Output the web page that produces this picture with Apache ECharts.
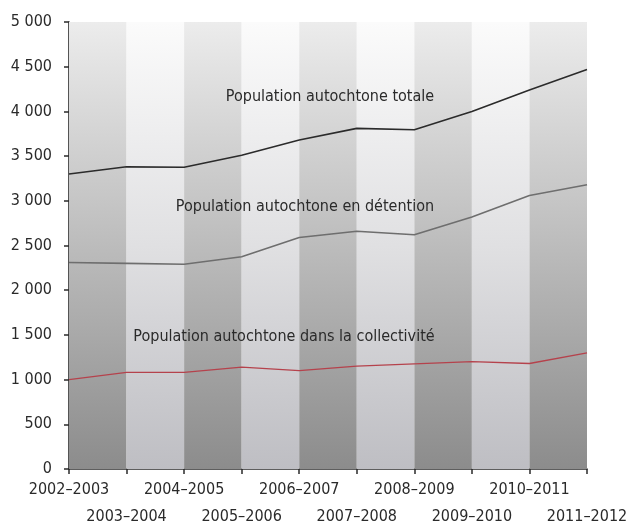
<!DOCTYPE html>
<html><head><meta charset="utf-8">
<script src="https://cdn.jsdelivr.net/npm/echarts@6/dist/echarts.min.js"></script>
<style>html,body{margin:0;padding:0;background:#fff}#c{width:634px;height:526px}</style>
</head><body><div id="c"></div>
<script>
const categories = ['2002–2003','2003–2004','2004–2005','2005–2006','2006–2007','2007–2008','2008–2009','2009–2010','2010–2011','2011–2012'];
const totale = [3300, 3380, 3375, 3510, 3680, 3810, 3795, 4000, 4240, 4470];
const detention = [2310, 2300, 2290, 2375, 2590, 2660, 2620, 2820, 3060, 3180];
const collectivite = [1000, 1080, 1080, 1140, 1100, 1150, 1175, 1200, 1180, 1300];
const seriesNames = ['Population autochtone totale','Population autochtone en détention','Population autochtone dans la collectivité'];

const FONT = '"DejaVu Sans Condensed","Liberation Sans Narrow",sans-serif';
const darkStripe = {type:'linear',x:0,y:0,x2:0,y2:1,colorStops:[
  {offset:0,color:'#ececec'},{offset:0.5,color:'#bcbcbc'},{offset:1,color:'#8c8c8c'}]};
const lightStripe = {type:'linear',x:0,y:0,x2:0,y2:1,colorStops:[
  {offset:0,color:'#fbfbfb'},{offset:0.5,color:'#e0e0e2'},{offset:1,color:'#bebec3'}]};
const stripes = [];
for (let i = 0; i < categories.length - 1; i++) {
  stripes.push([{xAxis: categories[i], itemStyle:{color: i % 2 === 0 ? darkStripe : lightStripe}}, {xAxis: categories[i+1]}]);
}

const chart = echarts.init(document.getElementById('c'));
chart.setOption({
  animation: false,
  grid: {left: 69, right: 47, top: 22, bottom: 57, containLabel: false, outerBoundsMode: 'none'},
  xAxis: {
    type: 'category', data: categories, boundaryGap: false,
    axisLine: {lineStyle: {color: '#2a2a2a', width: 1.6}},
    axisTick: {length: 5, lineStyle: {color: '#2a2a2a', width: 1.5}},
    axisLabel: {
      interval: 0, color: '#2a2a2a', fontFamily: FONT, fontSize: 16, margin: 7, lineHeight: 27,
      formatter: (v, i) => (i % 2 ? '\n' + v : v)
    },
    splitLine: {show: false}
  },
  yAxis: {
    type: 'value', min: 0, max: 5000, interval: 500,
    axisLine: {show: true, lineStyle: {color: '#2a2a2a', width: 1.6}},
    axisTick: {show: true, length: 5, lineStyle: {color: '#2a2a2a', width: 1.5}},
    axisLabel: {color: '#2a2a2a', fontFamily: FONT, fontSize: 16, margin: 17,
      formatter: v => String(v).replace(/\B(?=(\d{3})+(?!\d))/g, ' ')},
    splitLine: {show: false}
  },
  series: [
    {name: seriesNames[0], type: 'line', data: totale, symbol: 'none',
      lineStyle: {color: '#2b2b2b', width: 1.6}, z: 5,
      markArea: {silent: true, data: stripes}},
    {name: seriesNames[1], type: 'line', data: detention, symbol: 'none',
      lineStyle: {color: '#6e6e6e', width: 1.6}, z: 5},
    {name: seriesNames[2], type: 'line', data: collectivite, symbol: 'none',
      lineStyle: {color: '#b5424c', width: 1.3}, z: 5}
  ],
  graphic: [
    {type: 'text', x: 330, y: 97, z: 100, style: {text: seriesNames[0], fill: '#2a2a2a', font: '16px ' + FONT, textAlign: 'center', textVerticalAlign: 'middle'}},
    {type: 'text', x: 305, y: 207, z: 100, style: {text: seriesNames[1], fill: '#2a2a2a', font: '16px ' + FONT, textAlign: 'center', textVerticalAlign: 'middle'}},
    {type: 'text', x: 284, y: 337, z: 100, style: {text: seriesNames[2], fill: '#2a2a2a', font: '16px ' + FONT, textAlign: 'center', textVerticalAlign: 'middle'}}
  ]
});
</script></body></html>
